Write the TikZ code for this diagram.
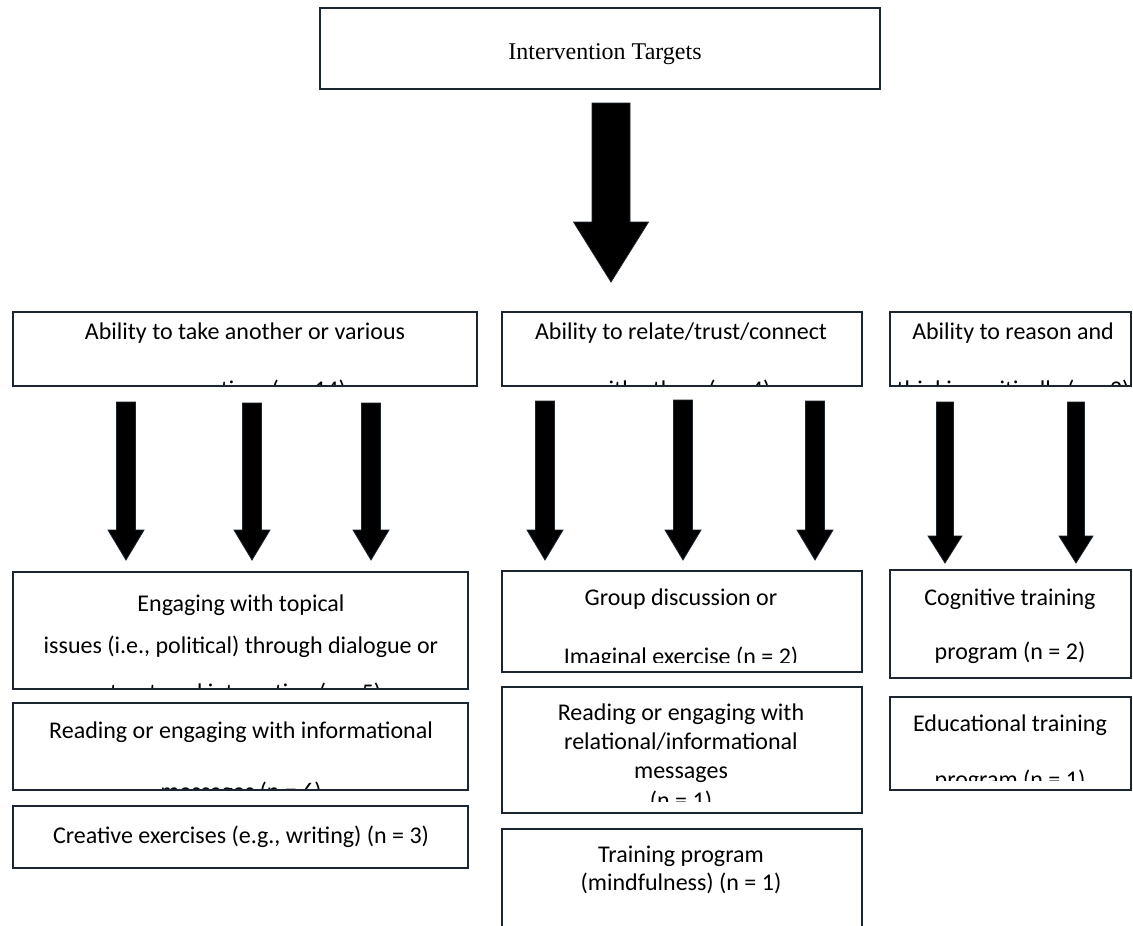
\documentclass[tikz,border=0pt]{standalone}
\usepackage{fontspec}
\setmainfont{Carlito}
\newfontfamily\timesfont{Liberation Serif}
\usetikzlibrary{calc}
\definecolor{edge}{HTML}{1B2631}
\tikzset{
  box/.style={draw=edge, line width=2.2pt, rectangle, inner sep=0pt, outer sep=0pt, anchor=north west},
  txt/.style={font=\fontsize{24}{29}\selectfont, inner sep=0pt, anchor=base, text=black},
  blk/.style={fill=black, draw=edge, line width=0.8pt, line join=miter}
}
% start coordinate, end coordinate (tip), shaft half width, head half width, head length
\newcommand\blockarrow[5]{%
  \draw[blk] let \p1=(#1), \p2=(#2) in
    (\x1-#3,\y1) -- (\x1+#3,\y1) -- (\x1+#3,\y2+#5) -- (\x1+#4,\y2+#5) --
    (\x2,\y2) -- (\x1-#4,\y2+#5) -- (\x1-#3,\y2+#5) -- cycle;}
\begin{document}
\begin{tikzpicture}[x=1pt,y=-1pt]
\useasboundingbox[fill=white] (0,0) rectangle (1133,926);

% ---- top box
\node[box, minimum width=560pt, minimum height=81pt] (T) at (320,8) {};
\node[txt, font=\timesfont\fontsize{24}{29}\selectfont] (Tt) at (605,59) {Intervention Targets};

% ---- level 2 boxes
\node[box, minimum width=464pt, minimum height=74pt] (A) at (13,312) {};
\begin{scope}
  \clip (A.north west) rectangle (477,384);
  \node[txt] (A1) at (245,339) {Ability to take another or various};
  \node[txt] (A2) at (245,397) {perspectives (n = 14)};
\end{scope}

\node[box, minimum width=360pt, minimum height=74pt] (B) at (502,312) {};
\begin{scope}
  \clip (B.north west) rectangle (862,384);
  \node[txt] (B1) at (681,339) {Ability to relate/trust/connect};
  \node[txt] (B2) at (681,397) {with others (n = 4)};
\end{scope}

\node[box, minimum width=241pt, minimum height=74pt] (C) at (890,312) {};
\begin{scope}
  \clip (C.north west) rectangle (1131,384);
  \node[txt] (C1) at (1013,339) {Ability to reason and};
  \node[txt] (C2) at (1013,397) {thinking critically (n = 3)};
\end{scope}

% ---- level 3 boxes, left column
\node[box, minimum width=455pt, minimum height=117pt] (D) at (13,572) {};
\begin{scope}
  \clip (D.north west) rectangle (468,687);
  \node[txt] (D1) at (241,611) {Engaging with topical};
  \node[txt] (D2) at (241,653) {issues (i.e., political) through dialogue or};
  \node[txt] (D3) at (241,700) {structured interaction (n = 5)};
\end{scope}

\node[box, minimum width=455pt, minimum height=87pt] (E) at (13,703) {};
\begin{scope}
  \clip (E.north west) rectangle (468,788);
  \node[txt] (E1) at (241,738) {Reading or engaging with informational};
  \node[txt] (E2) at (241,799) {messages (n = 6)};
\end{scope}

\node[box, minimum width=455pt, minimum height=62pt] (F) at (13,806) {};
\node[txt] (F1) at (241,843) {Creative exercises (e.g., writing) (n = 3)};

% ---- level 3 boxes, middle column
\node[box, minimum width=360pt, minimum height=101pt] (G) at (502,571) {};
\begin{scope}
  \clip (G.north west) rectangle (862,662);
  \node[txt] (G1) at (681,605) {Group discussion or};
  \node[txt] (G2) at (681,664) {Imaginal exercise (n = 2)};
\end{scope}

\node[box, minimum width=360pt, minimum height=126pt] (H) at (502,687) {};
\begin{scope}
  \clip (H.north west) rectangle (862,801);
  \node[txt] (H1) at (681,720) {Reading or engaging with};
  \node[txt] (H2) at (681,749) {relational/informational};
  \node[txt] (H3) at (681,778) {messages};
  \node[txt] (H4) at (681,808) {(n = 1)};
\end{scope}

\node[box, minimum width=360pt, minimum height=110pt] (I) at (502,829) {};
\node[txt] (I1) at (681,862) {Training program};
\node[txt] (I2) at (681,890) {(mindfulness) (n = 1)};

% ---- level 3 boxes, right column
\node[box, minimum width=241pt, minimum height=108pt] (J) at (890,570) {};
\node[txt] (J1) at (1010,605) {Cognitive training};
\node[txt] (J2) at (1010,659) {program (n = 2)};

\node[box, minimum width=241pt, minimum height=93pt] (K) at (890,697) {};
\begin{scope}
  \clip (K.north west) rectangle (1131,780);
  \node[txt] (K1) at (1010,731) {Educational training};
  \node[txt] (K2) at (1010,787) {program (n = 1)};
\end{scope}

% ---- arrow end points
\coordinate (s0) at (611,103);  \coordinate (e0) at (611,282);
\coordinate (sa1) at (126,402); \coordinate (ea1) at (126,560);
\coordinate (sa2) at (252,403); \coordinate (ea2) at (252,560);
\coordinate (sa3) at (371,403); \coordinate (ea3) at (371,560);
\coordinate (sb1) at (545,401); \coordinate (eb1) at (545,560);
\coordinate (sb2) at (683,400); \coordinate (eb2) at (683,560);
\coordinate (sb3) at (815,401); \coordinate (eb3) at (815,560);
\coordinate (sc1) at (945,402); \coordinate (ec1) at (945,563);
\coordinate (sc2) at (1076,402); \coordinate (ec2) at (1076,563);

\blockarrow{s0}{e0}{19pt}{37.5pt}{60pt}
\blockarrow{sa1}{ea1}{9.5pt}{18pt}{30pt}
\blockarrow{sa2}{ea2}{9.5pt}{18pt}{30pt}
\blockarrow{sa3}{ea3}{9.5pt}{18pt}{30pt}
\blockarrow{sb1}{eb1}{9.5pt}{18pt}{30pt}
\blockarrow{sb2}{eb2}{9.5pt}{18pt}{30pt}
\blockarrow{sb3}{eb3}{9.5pt}{18pt}{30pt}
\blockarrow{sc1}{ec1}{8.5pt}{17pt}{27pt}
\blockarrow{sc2}{ec2}{8.5pt}{17pt}{27pt}
\end{tikzpicture}
\end{document}
